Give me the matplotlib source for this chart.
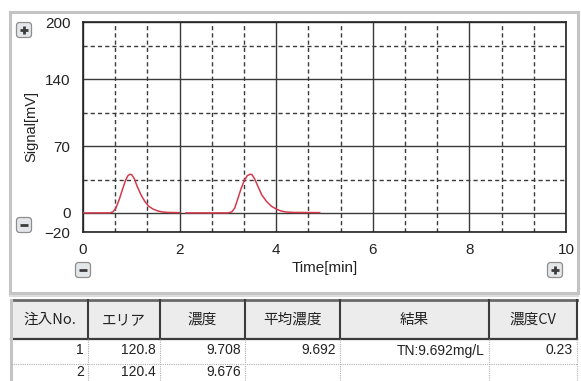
import matplotlib
matplotlib.use("Agg")
import matplotlib.pyplot as plt
from matplotlib.patches import Rectangle, FancyBboxPatch
from matplotlib.ticker import FixedLocator

plt.rcParams['font.family'] = ['Liberation Sans', 'Noto Sans CJK JP', 'DejaVu Sans']

# Chromatogram traces (time in min, signal in mV)
run1_time = [0.00, 0.55, 0.62, 0.68, 0.75, 0.82, 0.88, 0.93, 0.97, 1.01, 1.06,
             1.12, 1.20, 1.28, 1.36, 1.45, 1.55, 1.65, 1.75, 2.00]
run1_signal = [0.0, 0.0, 1.0, 5.0, 14.0, 25.0, 34.0, 39.0, 40.5, 40.0, 36.0,
               28.0, 19.0, 12.0, 7.0, 4.0, 2.0, 1.0, 0.5, 0.3]
run2_time = [2.13, 3.00, 3.08, 3.14, 3.20, 3.27, 3.34, 3.40, 3.46, 3.50, 3.55,
             3.62, 3.70, 3.80, 3.90, 4.00, 4.10, 4.20, 4.35, 4.90]
run2_signal = [0.0, 0.0, 1.0, 5.0, 14.0, 25.0, 34.0, 39.0, 40.5, 40.0, 36.0,
               28.0, 19.0, 12.0, 7.0, 4.0, 2.0, 1.0, 0.5, 0.3]

x_ticks = [0, 2, 4, 6, 8, 10]
x_minor = [2 / 3 * k for k in range(1, 15) if k % 3]
y_ticks = [-20, 0, 70, 140, 200]
y_minor = [35, 105, 175]

# Results table
col_headers = ["注入No.", "エリア", "濃度", "平均濃度", "結果", "濃度CV"]
row1 = ["1", "120.8", "9.708", "9.692", "TN:9.692mg/L", "0.23"]
row2 = ["2", "120.4", "9.676", "", "", ""]

W, H = 581, 381
fig = plt.figure(figsize=(W / 100, H / 100), dpi=100)
fig.patch.set_facecolor("white")

# overlay in pixel coordinates for panel frame, buttons and table
ov = fig.add_axes([0, 0, 1, 1], zorder=0)
ov.set_xlim(0, W)
ov.set_ylim(H, 0)
ov.axis("off")

# chromatogram panel frame
panel_col = "#c4c4c4"
ov.add_patch(Rectangle((10, 12), 568, 281, fill=False, edgecolor=panel_col, lw=2.2))
ov.plot([10, 578], [296, 296], color="#dcdcdc", lw=1.5)

# main plot
left, right, top, bottom = 83, 566, 22, 232
ax = fig.add_axes([left / W, 1 - bottom / H, (right - left) / W, (bottom - top) / H], zorder=1)
ax.set_facecolor("white")
ax.set_xlim(0, 10)
ax.set_ylim(-20, 200)
ax.xaxis.set_major_locator(FixedLocator(x_ticks))
ax.xaxis.set_minor_locator(FixedLocator(x_minor))
ax.yaxis.set_major_locator(FixedLocator(y_ticks))
ax.yaxis.set_minor_locator(FixedLocator(y_minor))
ax.grid(which="major", color="#3a3a3a", lw=1.0, ls="-")
ax.grid(which="minor", color="#3a3a3a", lw=1.0, ls=(0, (3.0, 2.2)))
ax.tick_params(which="both", length=0)
ax.tick_params(axis="y", pad=9, labelsize=11, labelcolor="#222222")
ax.tick_params(axis="x", pad=8, labelsize=11, labelcolor="#222222")
for s in ax.spines.values():
    s.set_color("#222222")
    s.set_linewidth(1.2)
ax.set_axisbelow(True)

line_col = "#d23a4e"
ax.plot(run1_time, run1_signal, color=line_col, lw=1.1, zorder=3)
ax.plot(run2_time, run2_signal, color=line_col, lw=1.1, zorder=3)

ax.set_xlabel("Time[min]", fontsize=11, color="#222222", labelpad=3)
ax.set_ylabel("Signal[mV]", fontsize=10.5, color="#222222")
ax.yaxis.set_label_coords(-0.092, 0.5)


def button(cx, cy, sign):
    s = 15
    ov.add_patch(FancyBboxPatch((cx - s / 2, cy - s / 2), s, s,
                                boxstyle="round,pad=0,rounding_size=3",
                                facecolor="#e4e7ea", edgecolor="#8e8e8e", lw=0.9))
    ov.plot([cx - 4, cx + 4], [cy, cy], color="#3c3c3c", lw=2.0, solid_capstyle="butt")
    if sign == "+":
        ov.plot([cx, cx], [cy - 4, cy + 4], color="#3c3c3c", lw=2.0, solid_capstyle="butt")


button(24, 30, "+")
button(24, 225, "-")
button(83, 270, "-")
button(555, 270, "+")

# table
col_edges = [11, 88, 160, 245, 340, 489, 577]
head_top, head_bot, row_sep, tab_bot = 300, 339, 364, 381
ov.add_patch(Rectangle((col_edges[0], head_top), col_edges[-1] - col_edges[0],
                       head_bot - head_top, facecolor="#ececec", edgecolor="none"))
ov.plot([col_edges[0], col_edges[-1]], [head_top, head_top], color="#6a6a6a", lw=2.0)
ov.plot([col_edges[0], col_edges[-1]], [head_bot, head_bot], color="#3c3c3c", lw=1.6)
ov.plot([col_edges[0], col_edges[0]], [head_top, tab_bot], color=panel_col, lw=2.2)
for xe in col_edges[1:]:
    ov.plot([xe, xe], [head_top, head_bot], color="#3c3c3c", lw=1.5)
for xe in col_edges[1:]:
    ov.plot([xe, xe], [head_bot, tab_bot], color="#b0b0b0", lw=0.8, ls=(0, (1, 1)))
ov.plot([col_edges[0], col_edges[-1]], [row_sep, row_sep], color="#b0b0b0", lw=0.8, ls=(0, (1, 1)))

for i, h in enumerate(col_headers):
    cx = (col_edges[i] + col_edges[i + 1]) / 2
    ov.text(cx, (head_top + head_bot) / 2 + 0.5, h, ha="center", va="center",
            fontsize=10.5, color="#222222",
            family=["Noto Sans CJK JP", "Liberation Sans"])

for r, (vals, yc) in enumerate([(row1, 350.5), (row2, 372.5)]):
    for i, v in enumerate(vals):
        if v:
            ov.text(col_edges[i + 1] - 4, yc, v, ha="right", va="center",
                    fontsize=10, color="#222222", family=["Liberation Sans Narrow", "Liberation Sans"])

fig.savefig("out.png", dpi=100, facecolor="white")
